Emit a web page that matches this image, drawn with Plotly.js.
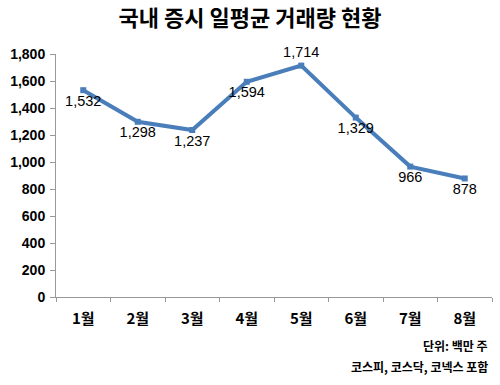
<!DOCTYPE html>
<html><head><meta charset="utf-8">
<script src="https://cdn.plot.ly/plotly-3.0.1.min.js"></script>
<style>body{margin:0;background:#fff}#c{width:500px;height:385px}</style>
</head><body><div id="c"></div>
<script>
const months = ["1월","2월","3월","4월","5월","6월","7월","8월"];
const volumes = [1532, 1298, 1237, 1594, 1714, 1329, 966, 878];
const labelPos = ["bottom center","bottom center","bottom center","bottom center","top center","bottom center","bottom center","bottom center"];
const yTicks = [0,200,400,600,800,1000,1200,1400,1600,1800];
const numFont = "'Liberation Sans Narrow', 'Arial Narrow', 'Liberation Sans', sans-serif";
const krFont = "'Noto Sans CJK KR', sans-serif";

const trace = {
  x: months, y: volumes, type: 'scatter', mode: 'lines+markers+text',
  line: {color: '#4a7ebb', width: 4},
  marker: {symbol: 'square', size: 6, color: '#4a7ebb'},
  text: volumes.map(v => v.toLocaleString('en-US')),
  textposition: labelPos,
  textfont: {family: numFont, size: 14.5, color: '#000'},
  cliponaxis: false, hoverinfo: 'none'
};
const layout = {
  width: 500, height: 385,
  margin: {l: 56, r: 8, t: 54, b: 88},
  paper_bgcolor: '#fff', plot_bgcolor: '#fff',
  showlegend: false,
  title: {text: '국내 증시 일평균 거래량 현황', x: 0.5, xanchor: 'center', y: 0.953, yanchor: 'middle',
          font: {family: krFont, size: 22, color: '#000', weight: 'bold'}},
  xaxis: {type: 'category', showgrid: false, zeroline: false, showline: true, linecolor: '#999', linewidth: 1,
          ticks: 'outside', ticklen: 4, tickcolor: '#999', tickson: 'boundaries', ticklabelstandoff: 8,
          tickfont: {family: krFont, size: 15, color: '#000', weight: 'bold'}, range: [-0.5, 7.5]},
  yaxis: {range: [0, 1800], tickvals: yTicks, ticktext: yTicks.map(v => v.toLocaleString('en-US')),
          showgrid: false, zeroline: false, showline: true, linecolor: '#999', linewidth: 1,
          ticks: 'outside', ticklen: 5, tickcolor: '#999', ticklabelstandoff: 2,
          tickfont: {family: numFont, size: 14, color: '#000', weight: 'bold'}},
  annotations: [
    {text: '단위: 백만 주', xref: 'paper', yref: 'paper', x: 0.995, y: -0.2, xanchor: 'right', yanchor: 'middle', showarrow: false,
     font: {family: krFont, size: 12, color: '#000', weight: 'bold'}},
    {text: '코스피, 코스닥, 코넥스 포함', xref: 'paper', yref: 'paper', x: 0.995, y: -0.288, xanchor: 'right', yanchor: 'middle', showarrow: false,
     font: {family: krFont, size: 12, color: '#000', weight: 'bold'}}
  ]
};
Plotly.newPlot('c', [trace], layout, {displayModeBar: false, staticPlot: true});
</script></body></html>
